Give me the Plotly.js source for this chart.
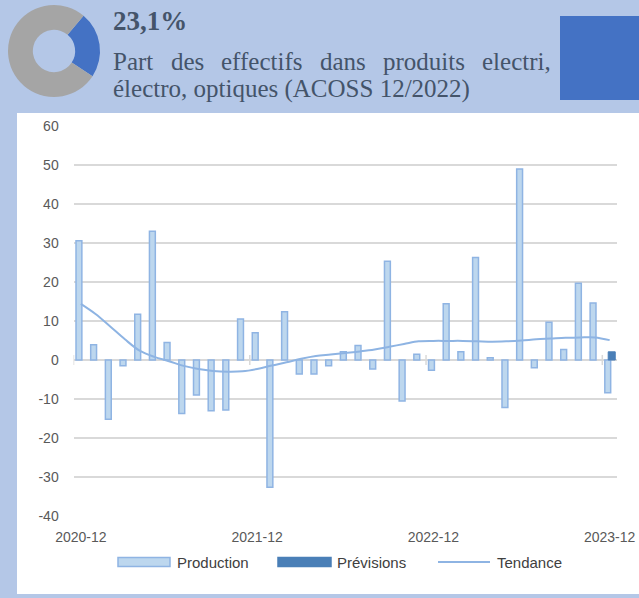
<!DOCTYPE html>
<html>
<head>
<meta charset="utf-8">
<script src="https://cdn.plot.ly/plotly-3.0.1.min.js"></script>
<style>
html,body{margin:0;padding:0;background:#b4c7e7;}
#chart{width:639px;height:598px;}
</style>
</head>
<body>
<div id="chart"></div>
<script>
// ---- Data ----
const months = [
  '2020-12','2021-01','2021-02','2021-03','2021-04','2021-05','2021-06','2021-07','2021-08','2021-09','2021-10','2021-11',
  '2021-12','2022-01','2022-02','2022-03','2022-04','2022-05','2022-06','2022-07','2022-08','2022-09','2022-10','2022-11',
  '2022-12','2023-01','2023-02','2023-03','2023-04','2023-05','2023-06','2023-07','2023-08','2023-09','2023-10','2023-11',
  '2023-12'
];
const production = [
  30.6, 3.9, -15.2, -1.5, 11.7, 33.0, 4.5, -13.7, -9.0, -13.0, -12.8, 10.5,
  7.0, -32.6, 12.4, -3.6, -3.6, -1.5, 2.1, 3.7, -2.3, 25.3, -10.5, 1.5,
  -2.6, 14.4, 2.1, 26.3, 0.6, -12.2, 49.0, -2.0, 9.7, 2.7, 19.7, 14.6,
  -8.4
];
const previsions = [
  null, null, null, null, null, null, null, null, null, null, null, null,
  null, null, null, null, null, null, null, null, null, null, null, null,
  null, null, null, null, null, null, null, null, null, null, null, null,
  2.1
];
const tendance = [
  14.4, 11.8, 8.6, 5.3, 2.4, 0.8, -0.3, -1.5, -2.3, -2.8, -3.0, -2.9,
  -2.3, -1.4, -0.6, 0.3, 1.0, 1.4, 1.8, 2.2, 2.7, 3.4, 4.1, 4.8,
  4.9, 4.9, 4.9, 4.8, 4.7, 4.8, 5.0, 5.3, 5.5, 5.7, 5.8, 5.8,
  5.1
];
const xTickLabels = ['2020-12','2021-12','2022-12','2023-12'];
const yTickValues = [-40, -30, -20, -10, 0, 10, 20, 30, 40, 50, 60];
const yTickLabels = ['-40','-30','-20','-10','0','10','20','30','40','50','60'];
const seriesNames = ['Production', 'Prévisions', 'Tendance'];
const shareLabels = ['Produits electri, électro, optiques', 'Autres'];
const shareValues = [23.1, 76.9];
const headline = '23,1%';
const subtitleWords = ['Part','des','effectifs','dans','produits','electri,'];
const subtitleLine2 = 'électro, optiques (ACOSS 12/2022)';

// ---- Layout helpers (pixel -> paper) ----
const W = 639, H = 598;
const px = x => x / W;
const py = y => 1 - y / H;

const colProdFill = '#bdd7ee', colProdLine = '#8fb4e3';
const colPrev = '#4a7fb7', colTrend = '#8eb4e3';
const textCol = '#44546a';
const serif = 'Liberation Serif, serif';

const traces = [
  {
    type: 'bar', name: seriesNames[0], x: months, y: production,
    offset: -0.33, width: 0.4,
    marker: {color: colProdFill, line: {color: colProdLine, width: 1.5}},
    xaxis: 'x', yaxis: 'y', showlegend: false
  },
  {
    type: 'bar', name: seriesNames[1], x: months, y: previsions,
    offset: -0.1, width: 0.48,
    marker: {color: colPrev, line: {color: colPrev, width: 1}},
    xaxis: 'x', yaxis: 'y', showlegend: false
  },
  {
    type: 'scatter', mode: 'lines', name: seriesNames[2], x: months, y: tendance,
    line: {color: colTrend, width: 2, shape: 'spline', smoothing: 1},
    xaxis: 'x', yaxis: 'y', showlegend: false
  },
  {
    type: 'pie', labels: shareLabels, values: shareValues, hole: 0.46,
    sort: false, direction: 'clockwise', rotation: 40,
    marker: {colors: ['#4472c4', '#a5a5a5'], line: {width: 0}},
    textinfo: 'none', showlegend: false,
    domain: {x: [px(8), px(100)], y: [py(97), py(5)]}
  }
];

// justify first subtitle line between x=111 and x=549
const cv = document.createElement('canvas').getContext('2d');
cv.font = '25px "Liberation Serif"';
const widths = subtitleWords.map(w => cv.measureText(w).width);
const totalW = widths.reduce((a, b) => a + b, 0);
const lineStart = 111, lineEnd = 549;
const gap = (lineEnd - lineStart - totalW) / (subtitleWords.length - 1);

const annotations = [
  {text: '<b>' + headline + '</b>', xref: 'paper', yref: 'paper', x: px(111), y: py(21),
   xanchor: 'left', yanchor: 'middle', showarrow: false,
   font: {family: serif, size: 27, color: textCol}},
  {text: subtitleLine2, xref: 'paper', yref: 'paper', x: px(111), y: py(89),
   xanchor: 'left', yanchor: 'middle', showarrow: false,
   font: {family: serif, size: 25, color: textCol}}
];
let cx = lineStart;
subtitleWords.forEach((w, i) => {
  annotations.push({
    text: w, xref: 'paper', yref: 'paper', x: px(cx), y: py(61),
    xanchor: 'left', yanchor: 'middle',
    showarrow: false, font: {family: serif, size: 25, color: textCol}
  });
  cx += widths[i] + gap;
});

const shapes = [
  // white chart panel
  {type: 'rect', xref: 'paper', yref: 'paper', x0: px(17), x1: 1, y0: py(594), y1: py(113),
   fillcolor: '#ffffff', line: {width: 0}, layer: 'below'},
  // blue square in header
  {type: 'rect', xref: 'paper', yref: 'paper', x0: px(560), x1: 1, y0: py(100), y1: py(16),
   fillcolor: '#4472c4', line: {width: 0}, layer: 'below'}
];
// small tick marks on the zero axis line at year boundaries
[-0.5, 11.5, 23.5, 35.5].forEach(v => {
  shapes.push({type: 'line', xref: 'x', yref: 'y', x0: v, x1: v, y0: -1.3, y1: 1.3,
    line: {color: '#d9d9d9', width: 1.5}, layer: 'below'});
});

// legend (drawn as swatches + labels)
const legY = 562;
const legendItems = [
  {sx0: 118, sx1: 170, tx: 175, kind: 'bar', fill: colProdFill, line: colProdLine},
  {sx0: 278, sx1: 331, tx: 335, kind: 'bar', fill: colPrev, line: colPrev},
  {sx0: 438, sx1: 490, tx: 495, kind: 'line', line: colTrend}
];
legendItems.forEach((it, i) => {
  if (it.kind === 'bar') {
    shapes.push({type: 'rect', xref: 'paper', yref: 'paper',
      x0: px(it.sx0), x1: px(it.sx1), y0: py(legY + 4.5), y1: py(legY - 4.5),
      fillcolor: it.fill, line: {color: it.line, width: 1.5}});
  } else {
    shapes.push({type: 'line', xref: 'paper', yref: 'paper',
      x0: px(it.sx0), x1: px(it.sx1), y0: py(legY), y1: py(legY),
      line: {color: it.line, width: 2}});
  }
  annotations.push({text: seriesNames[i], xref: 'paper', yref: 'paper',
    x: px(it.tx), y: py(legY), xanchor: 'left', yanchor: 'middle', showarrow: false,
    font: {family: 'Liberation Sans, Arial, sans-serif', size: 15, color: '#404040'}});
});

const layout = {
  width: W, height: H,
  margin: {l: 0, r: 0, t: 0, b: 0},
  paper_bgcolor: '#b4c7e7',
  plot_bgcolor: 'rgba(0,0,0,0)',
  font: {family: 'Liberation Sans, Arial, sans-serif', color: '#595959'},
  barmode: 'overlay',
  showlegend: false,
  xaxis: {
    domain: [px(73.5), px(617)], type: 'category', range: [-0.5, 36.5],
    tickmode: 'array', tickvals: xTickLabels, ticktext: xTickLabels,
    showgrid: false, showline: false, zeroline: false,
    ticks: 'outside', ticklen: 8, tickcolor: 'rgba(0,0,0,0)',
    tickfont: {size: 14, color: '#595959'}, fixedrange: true
  },
  yaxis: {
    domain: [py(516), py(126)], range: [-40, 60],
    tickmode: 'array', tickvals: yTickValues, ticktext: yTickLabels,
    showgrid: true, gridcolor: '#d9d9d9', gridwidth: 1.3,
    zeroline: true, zerolinecolor: '#d9d9d9', zerolinewidth: 2,
    showline: false, ticks: 'outside', ticklen: 11, tickcolor: 'rgba(0,0,0,0)',
    tickfont: {size: 14, color: '#595959'}, fixedrange: true
  },
  annotations: annotations,
  shapes: shapes
};

Plotly.newPlot('chart', traces, layout, {displayModeBar: false, staticPlot: true});
</script>
</body>
</html>
